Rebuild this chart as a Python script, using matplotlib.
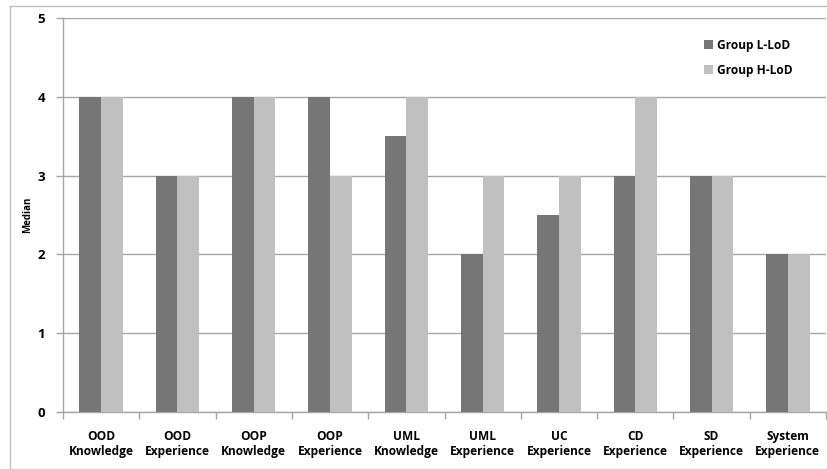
import numpy as np
import matplotlib.pyplot as plt
from matplotlib.patches import Rectangle

plt.rcParams['font.family'] = ['Open Sans', 'DejaVu Sans']
plt.rcParams['font.weight'] = 'bold'

categories = ['OOD\nKnowledge', 'OOD\nExperience', 'OOP\nKnowledge', 'OOP\nExperience',
              'UML\nKnowledge', 'UML\nExperience', 'UC\nExperience', 'CD\nExperience',
              'SD\nExperience', 'System\nExperience']
group_l = [4, 3, 4, 4, 3.5, 2, 2.5, 3, 3, 2]
group_h = [4, 3, 4, 3, 4, 3, 3, 4, 3, 2]
yticks = [0, 1, 2, 3, 4, 5]

dark = '#767676'
light = '#c0c0c0'
axc = '#a6a6a6'

fig = plt.figure(figsize=(8.27, 4.69), dpi=100)
ax = fig.add_axes([63/827, 1 - 412/469, (826-63)/827, (412-18)/469])

x = np.arange(len(categories))
w = 0.285
ax.bar(x - w/2, group_l, w, color=dark, label='Group L-LoD', zorder=3)
ax.bar(x + w/2, group_h, w, color=light, label='Group H-LoD', zorder=3)

ax.set_xlim(-0.5, len(categories) - 0.5)
ax.set_ylim(0, 5)
ax.set_yticks(yticks)
ax.yaxis.grid(True, color=axc, linewidth=1, zorder=0)
ax.set_axisbelow(True)

ax.set_xticks(x)
ax.set_xticklabels(categories, fontsize=8.6, fontweight='bold', linespacing=1.15)
ax.tick_params(axis='x', length=0, pad=13)
ax.set_xticks(np.arange(-0.5, len(categories)), minor=True)
ax.tick_params(axis='x', which='minor', length=5, color=axc, width=1)
ax.tick_params(axis='y', length=5, color=axc, width=1, labelsize=9.5, pad=8)
for lab in ax.get_yticklabels():
    lab.set_fontweight('bold')

for s in ['top', 'right']:
    ax.spines[s].set_visible(False)
for s in ['left', 'bottom']:
    ax.spines[s].set_color(axc)
    ax.spines[s].set_linewidth(1)

ax.set_ylabel('Median', fontsize=7, fontweight='bold', labelpad=3)

ax.legend(loc='upper right', bbox_to_anchor=(0.97, 0.975), frameon=False,
          handlelength=0.8, handleheight=0.8, handletextpad=0.3,
          labelspacing=1.0, prop={'weight': 'bold', 'size': 8.6})

fig.patches.append(Rectangle((10/827, 0.5/469), 830/827, 462/469, transform=fig.transFigure,
                             fill=False, edgecolor='#bfbfbf', linewidth=1))

fig.savefig('out.png', dpi=100)
